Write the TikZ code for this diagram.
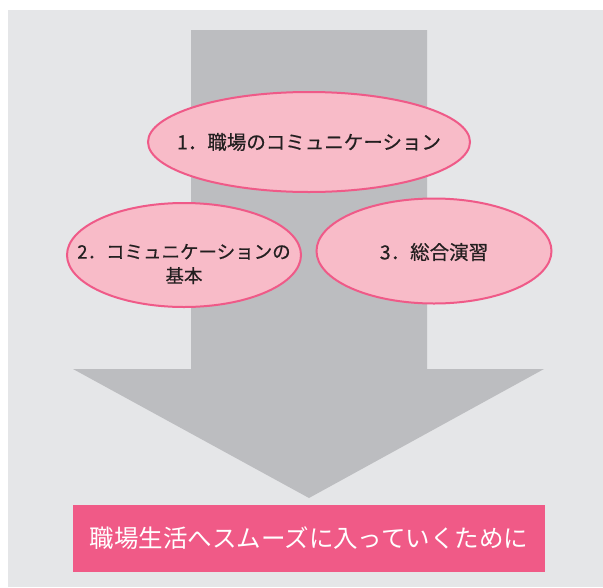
\documentclass[tikz,border=0pt]{standalone}
\usepackage{fontspec}
\setmainfont{Noto Sans CJK JP}
\newfontfamily\medfont{Noto Sans CJK JP}[FakeBold=0.5]
\usetikzlibrary{shapes}
\definecolor{bggray}{HTML}{E5E6E8}
\definecolor{arrgray}{HTML}{BCBDC0}
\definecolor{pinkfill}{HTML}{F8BBC8}
\definecolor{pinkline}{HTML}{EF5A88}
\definecolor{pinkbox}{HTML}{F05A87}
\definecolor{txtdark}{HTML}{231F20}
\tikzstyle{topic}=[ellipse,draw=pinkline,fill=pinkfill,line width=2pt,inner sep=0pt]
\tikzstyle{topictext}=[text=txtdark,align=center,inner sep=0pt,font=\medfont\fontsize{19.5}{24}\selectfont]
\tikzstyle{goal}=[rectangle,fill=pinkbox,text=white,inner sep=0pt,minimum width=472pt,minimum height=67pt]
\begin{document}
\begin{tikzpicture}[x=1pt,y=-1pt]
\useasboundingbox (0,0) rectangle (603,587);
\fill[bggray] (8,10) rectangle (603,587);
\fill[arrgray] (191,30) -- (427,30) -- (427,369) -- (544,369) -- (309,498) -- (73,369) -- (191,369) -- cycle;
\node[topic,minimum width=322pt,minimum height=100pt] (T1) at (309,142) {};
\node[topic,minimum width=234pt,minimum height=104pt] (T2) at (184,255) {};
\node[topic,minimum width=235pt,minimum height=105pt] (T3) at (434,251) {};
\node[topictext] (L1) at (T1) {1．職場のコミュニケーション};
\node[topictext,font=\medfont\fontsize{18.5}{24}\selectfont] (L2) at ([yshift=-9pt]T2) {2．コミュニケーションの\\基本};
\node[topictext] (L3) at ([yshift=-1pt]T3) {3．総合演習};
\node[goal,font=\fontsize{24.5}{28}\selectfont] (G) at (309,538.5) {職場生活へスムーズに入っていくために};
\end{tikzpicture}
\end{document}
